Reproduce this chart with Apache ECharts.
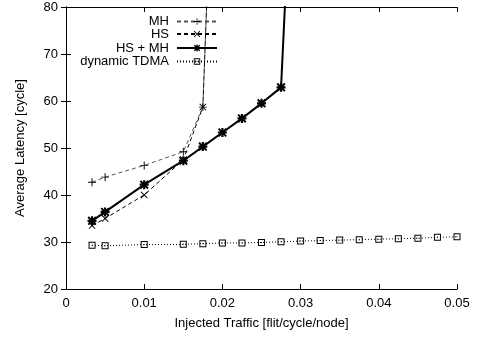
<!DOCTYPE html>
<html>
<head>
<meta charset="utf-8">
<script src="https://cdn.jsdelivr.net/npm/echarts@6/dist/echarts.min.js"></script>
<style>
    html, body { margin: 0; padding: 0; background: #fff; }
    #chart_main { width: 477px; height: 339px; }
</style>
</head>
<body>
<div id="chart_main"></div>
<script>
// injected traffic per series [flit/cycle/node]
var mhX = [0.00333, 0.005, 0.01, 0.015, 0.0175, 0.02];
var mhY = [42.7, 43.8, 46.3, 49.2, 58.7, 170];
var hsX = [0.00333, 0.005, 0.01, 0.015, 0.0175, 0.02];
var hsY = [33.5, 35.0, 40.0, 47.5, 58.7, 170];
var hsmhX = [0.00333, 0.005, 0.01, 0.015, 0.0175, 0.02, 0.0225, 0.025, 0.0275, 0.03];
var hsmhY = [34.5, 36.4, 42.2, 47.3, 50.3, 53.3, 56.3, 59.5, 62.9, 150];
var tdmaX = [0.00333, 0.005, 0.01, 0.015, 0.0175, 0.02, 0.0225, 0.025, 0.0275, 0.03,
    0.0325, 0.035, 0.0375, 0.04, 0.0425, 0.045, 0.0475, 0.05];
var tdmaY = [29.3, 29.2, 29.45, 29.5, 29.65, 29.8, 29.8, 29.9, 30.05, 30.2,
    30.3, 30.4, 30.5, 30.6, 30.7, 30.8, 31.0, 31.1];

var names = ['MH', 'HS', 'HS + MH', 'dynamic TDMA'];
var legendTops = [15, 27.5, 41.5, 55];

var plusPath = 'path://M4.4,0H5.6V4.4H10V5.6H5.6V10H4.4V5.6H0V4.4H4.4Z';
var crossPath = 'path://M0,0.9L0.9,0L5,4.1L9.1,0L10,0.9L5.9,5L10,9.1L9.1,10L5,5.9L0.9,10L0,9.1L4.1,5Z';
var starPath = 'path://M0,1.5L1.5,0L5,3.5L8.5,0L10,1.5L6.5,5L10,8.5L8.5,10L5,6.5L1.5,10L0,8.5L3.5,5Z' +
    'M3.8,0H6.2V10H3.8Z M0,3.8H10V6.2H0Z';
var boxPath = 'path://M0,0H10V10H0Z M1.4,1.4V8.6H8.6V1.4Z M4.3,4.3H5.7V5.7H4.3Z';

function pairs(xs, ys) {
    var out = [];
    for (var i = 0; i < xs.length; i++) {
        out.push([xs[i], ys[i]]);
    }
    return out;
}

var font = 'Liberation Sans, Arial, Helvetica, sans-serif';
var myChart = echarts.init(document.getElementById('chart_main'));

var legends = [];
for (var i = 0; i < names.length; i++) {
    legends.push({
        data: [names[i]],
        right: 259,
        top: legendTops[i],
        align: 'right',
        itemWidth: 40,
        itemHeight: 8,
        itemGap: 0,
        padding: 0,
        selectedMode: false,
        textStyle: { color: '#000', fontSize: 13, fontFamily: font, padding: [0, 3, 0, 0] }
    });
}

function axisBase() {
    return {
        axisLine: { show: true, lineStyle: { color: '#000', width: 1 } },
        axisTick: { show: true, inside: true, length: 5, lineStyle: { color: '#000' } },
        splitLine: { show: false }
    };
}

var xBottom = axisBase();
Object.assign(xBottom, {
    type: 'value', min: 0, max: 0.05, interval: 0.01, position: 'bottom',
    name: 'Injected Traffic [flit/cycle/node]', nameLocation: 'middle', nameGap: 28,
    nameTextStyle: { color: '#000', fontSize: 13, fontFamily: font },
    axisLabel: { color: '#000', fontSize: 13, fontFamily: font, margin: 8 }
});
var xTop = axisBase();
Object.assign(xTop, {
    type: 'value', min: 0, max: 0.05, interval: 0.01, position: 'top',
    axisLabel: { show: false }
});
var yLeft = axisBase();
Object.assign(yLeft, {
    type: 'value', min: 20, max: 80, interval: 10, position: 'left',
    name: 'Average Latency [cycle]', nameLocation: 'middle', nameGap: 39,
    nameTextStyle: { color: '#000', fontSize: 13, fontFamily: font },
    axisLabel: { color: '#000', fontSize: 13, fontFamily: font, margin: 8 }
});
var yRight = axisBase();
Object.assign(yRight, {
    type: 'value', min: 20, max: 80, interval: 10, position: 'right',
    axisLabel: { show: false }
});

var option = {
    animation: false,
    backgroundColor: '#fff',
    legend: legends,
    grid: { left: 66, right: 20, top: 7, bottom: 50 },
    xAxis: [xBottom, xTop],
    yAxis: [yLeft, yRight],
    series: [
        {
            name: names[0], type: 'line', data: pairs(mhX, mhY),
            symbol: plusPath, symbolSize: 8, showAllSymbol: true,
            itemStyle: { color: '#000' },
            lineStyle: { color: '#555', width: 1, type: [4, 3] }
        },
        {
            name: names[1], type: 'line', data: pairs(hsX, hsY),
            symbol: crossPath, symbolSize: 7, showAllSymbol: true,
            itemStyle: { color: '#000' },
            lineStyle: { color: '#000', width: 1, type: [4, 3] }
        },
        {
            name: names[2], type: 'line', data: pairs(hsmhX, hsmhY),
            symbol: starPath, symbolSize: 9, showAllSymbol: true,
            itemStyle: { color: '#000' },
            lineStyle: { color: '#000', width: 2 }
        },
        {
            name: names[3], type: 'line', data: pairs(tdmaX, tdmaY),
            symbol: boxPath, symbolSize: 7, showAllSymbol: true,
            itemStyle: { color: '#000' },
            lineStyle: { color: '#000', width: 1, type: [1, 2] }
        }
    ]
};

myChart.setOption(option);
</script>
</body>
</html>
